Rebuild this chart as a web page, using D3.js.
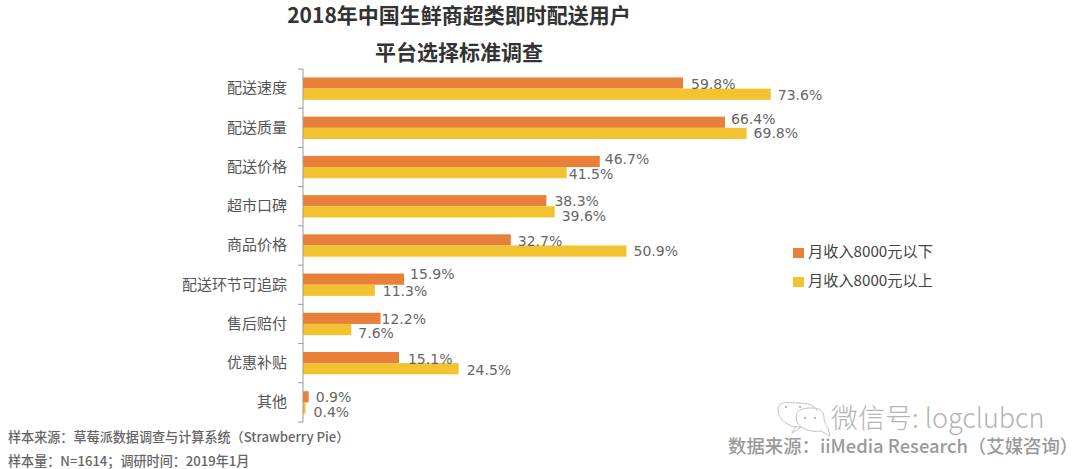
<!DOCTYPE html>
<html>
<head>
<meta charset="utf-8">
<script src="https://cdn.jsdelivr.net/npm/d3@7"></script>
<style>
  html, body { margin: 0; background: #fff; overflow: hidden; }
  text { font-family: "Noto Sans CJK SC", "Liberation Sans", sans-serif; }
</style>
</head>
<body>
<svg class="chart" width="1080" height="469"></svg>
<script>
const categories = ['配送速度', '配送质量', '配送价格', '超市口碑', '商品价格', '配送环节可追踪', '售后赔付', '优惠补贴', '其他'];
const lowIncome = [59.8, 66.4, 46.7, 38.3, 32.7, 15.9, 12.2, 15.1, 0.9];
const highIncome = [73.6, 69.8, 41.5, 39.6, 50.9, 11.3, 7.6, 24.5, 0.4];
const seriesNames = ['月收入8000元以下', '月收入8000元以上'];
const seriesColors = ['#e8803a', '#f2c22f'];
const titleLines = ['2018年中国生鲜商超类即时配送用户', '平台选择标准调查'];

// the labels were moved by hand in the original, so each one has its own nudge [dx, dy]
const lowNudge = [[8, 0.5], [6, -3], [5, -3], [8, 0], [7, 1], [6, -5], [1, 0.5], [9, 1], [7, 0]];
const highNudge = [[7, 1], [7, 0], [2, 1], [7, 4], [7, 0], [8, 1], [7, 3], [8, 1], [8, 4]];

const svg = d3.select('.chart');

const x = d3.scaleLinear().domain([0, 100]).range([303, 938.5]);
const y = d3.scaleBand().domain(categories).range([69, 422]).paddingInner(0.43).paddingOuter(0.215);
const ySeries = d3.scaleBand().domain([0, 1]).range([0, y.bandwidth()]);

// title
svg.selectAll('.title')
  .data(titleLines)
  .enter().append('text')
  .attr('class', 'title')
  .attr('x', 459)
  .attr('y', (d, i) => 23 + i * 37)
  .attr('text-anchor', 'middle')
  .attr('font-size', 21)
  .attr('font-weight', 700)
  .attr('fill', '#333')
  .text(d => d);

// bars first, labels on top of them since some touch the neighbouring bar
[lowIncome, highIncome].forEach((values, s) => {
  svg.selectAll('.bar' + s)
    .data(values)
    .enter().append('rect')
    .attr('class', 'bar' + s)
    .attr('x', x(0))
    .attr('y', (d, i) => y(categories[i]) + ySeries(s))
    .attr('width', d => x(d) - x(0))
    .attr('height', ySeries.bandwidth())
    .attr('fill', seriesColors[s]);
});

[lowIncome, highIncome].forEach((values, s) => {
  const nudge = s ? highNudge : lowNudge;
  svg.selectAll('.val' + s)
    .data(values)
    .enter().append('text')
    .attr('class', 'val' + s)
    .attr('x', (d, i) => x(d) + nudge[i][0])
    .attr('y', (d, i) => y(categories[i]) + ySeries(s) + ySeries.bandwidth() / 2 + nudge[i][1])
    .attr('dy', '0.36em')
    .attr('font-size', 14)
    .style('font-family', '"DejaVu Sans", sans-serif')
    .attr('fill', '#666')
    .text(d => d.toFixed(1) + '%');
});

// axis, labels come from d3.axisLeft, ticks sit between the bands
const axis = svg.append('g')
  .attr('transform', 'translate(' + x(0) + ',0)')
  .call(d3.axisLeft(y).tickSize(0).tickPadding(16));
axis.select('.domain').remove();
axis.selectAll('text').attr('font-size', 15).attr('fill', '#555')
  .style('font-family', '"Noto Sans CJK SC", sans-serif');

const [y0, y1] = y.range();
const tickYs = categories.map(c => y(c) - y.step() * 0.215).concat([y1]);
svg.selectAll('.tick-mark')
  .data(tickYs)
  .enter().append('line')
  .attr('class', 'tick-mark')
  .attr('x1', x(0) - 5)
  .attr('x2', x(0))
  .attr('y1', d => d)
  .attr('y2', d => d)
  .attr('stroke', '#999');
svg.append('line')
  .attr('x1', x(0)).attr('x2', x(0))
  .attr('y1', y0).attr('y2', y1)
  .attr('stroke', '#999');

// legend
const legend = svg.selectAll('.legend')
  .data(seriesNames)
  .enter().append('g')
  .attr('class', 'legend')
  .attr('transform', (d, i) => 'translate(793,' + (248 + i * 29) + ')');
legend.append('rect')
  .attr('width', 11)
  .attr('height', 10)
  .attr('fill', (d, i) => seriesColors[i]);
legend.append('text')
  .attr('x', 15)
  .attr('y', 9)
  .attr('font-size', 15.2)
  .attr('fill', '#444')
  .text(d => d);

// footnotes
svg.append('text').attr('x', 8).attr('y', 442).attr('font-size', 13.1).attr('font-weight', 500).attr('fill', '#666')
  .text('样本来源：草莓派数据调查与计算系统（Strawberry Pie）');
svg.append('text').attr('x', 8).attr('y', 466).attr('font-size', 13.1).attr('font-weight', 500).attr('fill', '#666')
  .text('样本量：N=1614；调研时间：2019年1月');

// source line and watermark
svg.append('text').attr('x', 728).attr('y', 453).attr('font-size', 18.4).attr('font-weight', 500).attr('fill', '#9a9a9a')
  .text('数据来源：iiMedia Research（艾媒咨询）');

const wm = svg.append('g').attr('fill', 'none').attr('stroke', '#c4c4c4').attr('stroke-width', 1);
wm.append('path').attr('d', 'M796 426 L792 433 L801 427 C788 428 778 419 778 410 C778 400 788 403 798 403 C808 403 815 405 817 411');
wm.append('path').attr('d', 'M828 428 L830 436 L821 431 C810 433 797 428 796 418 C796 408 806 408 813 408 C821 408 824 412 824 418 C824 422 826 425 828 428');
wm.selectAll('circle')
  .data([786, 800, 805, 815])
  .enter().append('circle')
  .attr('cx', d => d)
  .attr('cy', (d, i) => i < 2 ? 407 : 418)
  .attr('r', 1.2)
  .attr('fill', '#bbb')
  .attr('stroke', 'none');
svg.append('text').attr('x', 831).attr('y', 428).attr('font-size', 27).attr('font-weight', 300)
  .attr('fill', '#b5b5b5')
  .text('微信号: logclubcn');
</script>
</body>
</html>
